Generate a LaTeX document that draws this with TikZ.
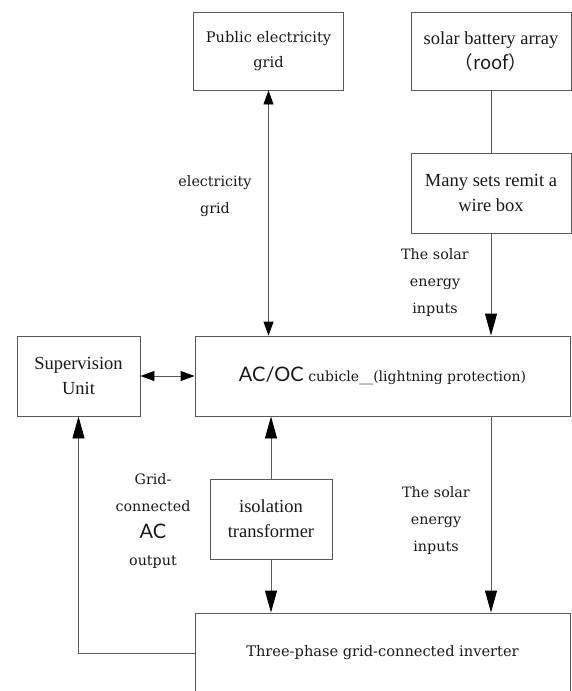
\documentclass[tikz,border=0pt]{standalone}
\usepackage{fontspec}
\setmainfont{Liberation Serif}
\newfontfamily\labelfont{DejaVu Serif}
\newfontfamily\acfont{Lato}
\newfontfamily\cjk{Noto Sans CJK SC}
\usetikzlibrary{arrows.meta}

\begin{document}
\begin{tikzpicture}[
    x=1pt, y=-1pt,
    every node/.style = {
      align=center,
      text=black!90
    },
    box/.style = {
      shape=rectangle,
      draw=black!65,
      line width=0.9pt,
      inner sep=0pt,
      font=\fontsize{18.5}{25}\selectfont
    },
    textbox/.style = {
      box,
      font=\labelfont\fontsize{14.6}{25}\selectfont
    },
    note/.style = {
      font=\labelfont\fontsize{14.3}{27}\selectfont
    },
    line/.style = {
      draw=black!65,
      line width=0.9pt
    },
    arrow/.style = {
      line,
      -{Triangle[length=22pt,width=12pt,color=black]}
    },
    twoway/.style = {
      line,
      {Triangle[length=14pt,width=10pt,color=black]}-{Triangle[length=14pt,width=10pt,color=black]}
    }
  ]

    \useasboundingbox (0,0) rectangle (572,691);

    % Top boxes
    \node[textbox, minimum width=150pt, minimum height=78pt] (grid) at (268.5, 51) {Public electricity\\grid};
    \node[box, minimum width=160pt, minimum height=78pt] (solar) at (491, 51) {solar battery array\\\cjk{（}roof\cjk{）}};

    % Wire box below the solar array
    \node[box, minimum width=160pt, minimum height=80pt] (wirebox) at (491, 193) {Many sets remit a\\wire box};

    % Middle row
    \node[box, minimum width=123pt, minimum height=80pt] (supervision) at (78.5, 376) {Supervision\\Unit};
    \node[box, minimum width=375pt, minimum height=80pt] (cubicle) at (382.5, 376)
      {{\acfont\fontsize{20}{24}\selectfont AC/OC} {\labelfont\fontsize{14}{16}\selectfont cubicle\_\_(lightning protection)}};

    % Transformer and inverter
    \node[box, minimum width=122pt, minimum height=80pt] (transformer) at (271, 519) {isolation\\transformer};
    \node[textbox, minimum width=375pt, minimum height=80pt] (inverter) at (382.5, 653) {Three-phase grid-connected inverter};

    % Labels
    \node[note] (gridlabel) at (215, 196) {electricity\\grid};
    \node[note] (inputlabel) at (435, 283) {The solar\\energy\\inputs};
    \node[note] (inputlabel2) at (436, 521) {The solar\\energy\\inputs};
    \node[note] (aclabel) at (153, 521) {Grid-\\connected\\{\acfont\fontsize{20}{27}\selectfont AC}\\output};

    % Arrows
    \draw[line] (solar) -- (wirebox);
    \draw[arrow] (wirebox) -- (wirebox |- cubicle.north);
    \draw[twoway] (grid) -- (grid |- cubicle.north);
    \draw[twoway] (supervision) -- (cubicle);
    \draw[arrow] (transformer) -- (transformer |- cubicle.south);
    \draw[arrow] (transformer) -- (transformer |- inverter.north);
    \draw[arrow] (wirebox |- cubicle.south) -- (wirebox |- inverter.north);
    \draw[arrow] (inverter.west) -| (supervision);

  \end{tikzpicture}
\end{document}
